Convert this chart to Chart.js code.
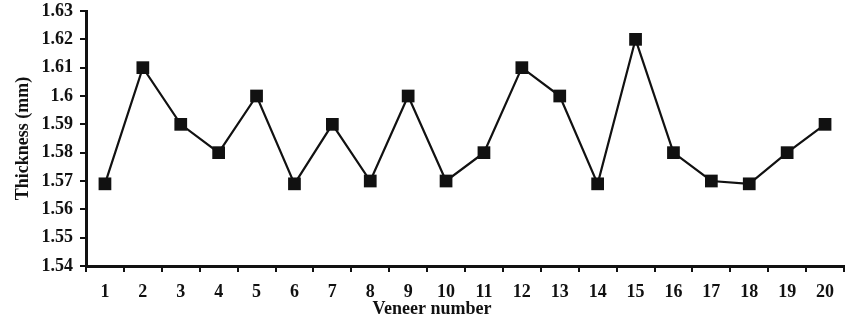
<!DOCTYPE html>
<html>
<head>
<meta charset="utf-8">
<script src="https://cdn.jsdelivr.net/npm/chart.js@4"></script>
<style>
html,body{margin:0;padding:0;background:#fff;}
#wrap{width:845px;height:325px;position:relative;}
</style>
</head>
<body>
<div id="wrap"><canvas id="c" width="845" height="325"></canvas></div>
<script>
const categories = ['1','2','3','4','5','6','7','8','9','10','11','12','13','14','15','16','17','18','19','20'];
const thickness = [1.569,1.610,1.590,1.580,1.600,1.569,1.590,1.570,1.600,1.570,1.580,1.610,1.600,1.569,1.620,1.580,1.570,1.569,1.580,1.590];
const yTickLabels = ['1.54','1.55','1.56','1.57','1.58','1.59','1.6','1.61','1.62','1.63'];
const xTitle = 'Veneer number';
const yTitle = 'Thickness (mm)';

const FONT = "'Liberation Serif','Times New Roman',serif";

const xTitlePlugin = {
  id: 'xTitle',
  afterDraw(chart) {
    const c = chart.ctx;
    c.save();
    c.font = "bold 18px " + FONT;
    c.fillStyle = '#111';
    c.textAlign = 'center';
    c.textBaseline = 'middle';
    c.fillText(xTitle, 432, 309);
    c.restore();
  }
};

const ctx = document.getElementById('c').getContext('2d');
new Chart(ctx, {
  type: 'line',
  data: {
    labels: categories,
    datasets: [{
      data: thickness,
      borderColor: '#111',
      borderWidth: 2.2,
      backgroundColor: '#111',
      pointStyle: 'rect',
      pointRadius: 9,
      pointHoverRadius: 9,
      pointBackgroundColor: '#111',
      pointBorderWidth: 0,
      tension: 0,
      fill: false
    }]
  },
  plugins: [xTitlePlugin],
  options: {
    responsive: false,
    animation: false,
    events: [],
    layout: { autoPadding: false, padding: { top: 11, right: 1, left: 0, bottom: 0 } },
    plugins: { legend: { display: false }, tooltip: { enabled: false } },
    scales: {
      x: {
        offset: true,
        grid: { display: true, offset: true, drawOnChartArea: false, drawTicks: true, tickLength: 6, color: '#111', lineWidth: 2 },
        border: { display: true, color: '#111', width: 3 },
        ticks: { color: '#111', font: { family: FONT, size: 18, weight: 'bold' }, padding: 10, maxRotation: 0, autoSkip: false },
        title: { display: false },
        afterFit: s => { s.height = 59; s.paddingLeft = 0; s.paddingRight = 0; }
      },
      y: {
        min: 1.54, max: 1.63,
        grid: { display: true, drawOnChartArea: false, drawTicks: true, tickLength: 6, color: '#111', lineWidth: 2 },
        border: { display: true, color: '#111', width: 3 },
        ticks: { stepSize: 0.01, color: '#111', font: { family: FONT, size: 18, weight: 'bold' }, padding: 7,
          callback: (v, i) => yTickLabels[i] },
        title: { display: true, text: yTitle, color: '#111', font: { family: FONT, size: 18, weight: 'bold' }, padding: { top: 13, bottom: 0 } },
        afterFit: s => { s.width = 86; s.paddingTop = 0; s.paddingBottom = 0; }
      }
    }
  }
});
</script>
</body>
</html>
